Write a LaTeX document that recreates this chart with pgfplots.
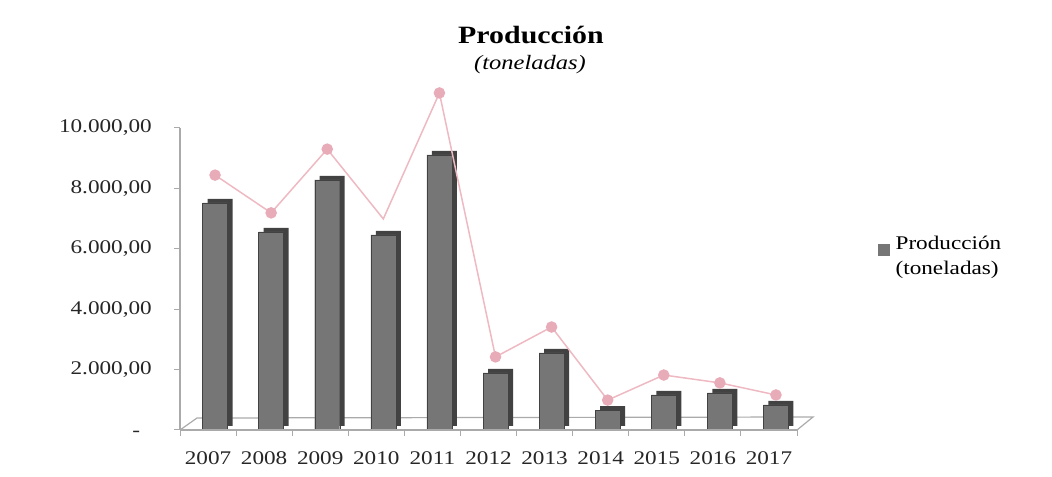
\documentclass[border=0pt]{standalone}
\usepackage{pgfplots}
\usepackage{pgfplotstable}
\pgfplotsset{compat=1.18}
\usepackage{fontspec}
\setmainfont{Liberation Serif}[FakeStretch=1.2]
\definecolor{barfront}{RGB}{118,118,118}
\definecolor{barside}{RGB}{66,66,66}
\definecolor{floorline}{RGB}{170,170,170}
\definecolor{pinkline}{RGB}{238,185,194}
\definecolor{pinkmark}{RGB}{232,172,184}
\pgfplotstableread{
x bar line
0 7520 8440
1 6560 7190
2 8280 9300
3 6460 6990
4 9110 11160
5 1890 2420
6 2550 3410
7 660 990
8 1160 1820
9 1230 1560
10 830 1160
}\datatable
\begin{document}
\begin{tikzpicture}
\path[use as bounding box] (0,0) rectangle (1052bp,477bp);
\node[anchor=base, font=\fontsize{25}{30}\selectfont\bfseries] at (531bp,433bp) {Producción};
\node[anchor=base, font=\fontsize{20.5}{24}\selectfont\itshape] at (530bp,407bp) {(toneladas)};
\begin{axis}[
  at={(180bp,47bp)}, anchor=south west,
  scale only axis, width=617bp, height=347.3bp,
  xmin=-0.5, xmax=10.5, ymin=0, ymax=11500,
  axis line style={draw=none},
  clip=false,
  scaled y ticks=false,
  tick align=outside,
  xtick pos=bottom, ytick pos=left,
  xtick={0,...,10},
  xticklabels={2007,2008,2009,2010,2011,2012,2013,2014,2015,2016,2017},
  x tick style={draw=none},
  minor xtick={-0.5,0.5,...,10.5},
  minor x tick style={draw=floorline, line width=1bp},
  minor tick length=6bp,
  ytick={0,2000,4000,6000,8000,10000},
  yticklabels={{-\phantom{0}},{2.000,00},{4.000,00},{6.000,00},{8.000,00},{10.000,00}},
  y tick style={draw=floorline, line width=1bp},
  major tick length=6bp,
  tick label style={font=\fontsize{19.4}{23}\selectfont, text=black!85},
  yticklabel style={anchor=east, inner sep=0pt, xshift=-22bp},
  xticklabel style={anchor=base, inner sep=0pt, yshift=-29bp},
  legend style={at={(1.1313,0.559)}, anchor=north west, draw=none, fill=none,
    inner sep=0pt, font=\fontsize{19.4}{25}\selectfont,
    cells={anchor=west, align=left}, nodes={inner sep=0pt}},
  legend image code/.code={\fill[barfront] (0bp,1bp) rectangle (11bp,12bp); \path (17bp,1bp);},
]
% floor back part
\draw[floorline, line width=1.2bp] (axis cs:-0.5,0) -- ([shift={(17bp,12bp)}]axis cs:-0.5,0)
  -- ([shift={(16bp,13bp)}]axis cs:10.5,0) -- (axis cs:10.5,0);
% bars (depth)
\addplot[ybar, bar width=25bp, bar shift=0pt, fill=barside, draw=none, xshift=12bp, yshift=4bp, forget plot]
  table[x=x, y=bar]{\datatable};
\addplot[ybar, bar width=25bp, bar shift=0pt, fill=barfront, draw=barside, line width=0.4bp, xshift=7bp]
  table[x=x, y=bar]{\datatable};
\addlegendentry{Producción\\(toneladas)}
% floor front edge and y axis line
\draw[floorline, line width=1.2bp] (axis cs:-0.5,0) -- (axis cs:10.5,0);
\draw[floorline, line width=1.2bp] (axis cs:-0.5,0) -- (axis cs:-0.5,10000);
\addplot[pinkline, line width=1.5bp, mark=*, mark size=5bp,
  mark options={fill=pinkmark, draw=pinkmark}, xshift=7bp,
  mark indices={1,2,3,5,6,7,8,9,10,11}, forget plot]
  table[x=x, y=line]{\datatable};
\end{axis}
\end{tikzpicture}
\end{document}
